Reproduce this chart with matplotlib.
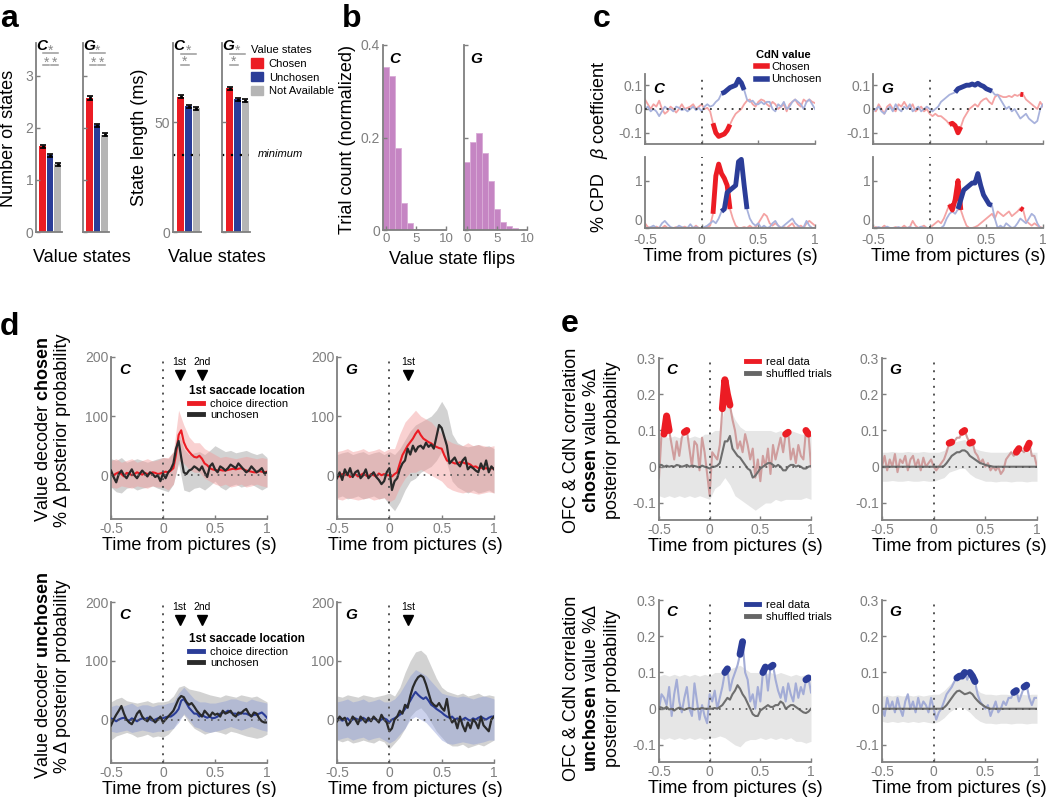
import numpy as np
import matplotlib as mpl
mpl.use('Agg')
import matplotlib.pyplot as plt
from matplotlib.patches import Patch
from matplotlib.lines import Line2D

plt.rcParams['font.family'] = ['Liberation Sans', 'DejaVu Sans']
plt.rcParams['mathtext.fontset'] = 'custom'
plt.rcParams['mathtext.rm'] = 'Liberation Sans'
plt.rcParams['mathtext.it'] = 'Liberation Sans:italic'
plt.rcParams['mathtext.bf'] = 'Liberation Sans:bold'
plt.rcParams['axes.unicode_minus'] = False

# ---------------- panel a ----------------
state_names = ['Chosen', 'Unchosen', 'Not Available']
nstates_C = [1.65, 1.47, 1.30]
nstates_C_err = [0.03, 0.025, 0.025]
nstates_G = [2.57, 2.05, 1.87]
nstates_G_err = [0.04, 0.03, 0.03]
slen_C = [61.5, 57.2, 56.2]
slen_C_err = [0.7, 0.6, 0.6]
slen_G = [65.5, 60.3, 59.8]
slen_G_err = [0.7, 0.6, 0.6]
min_state_len = 35

# ---------------- panel b ----------------
flip_bins = [0, 1, 2, 3, 4, 5, 6, 7, 8, 9]
flips_C = [0.353, 0.333, 0.178, 0.059, 0.016, 0.003, 0.0, 0.0, 0.0, 0.0]
flips_G = [0.148, 0.191, 0.209, 0.167, 0.105, 0.045, 0.018, 0.008, 0.004, 0.001]

# ---------------- time grids ----------------
t = np.linspace(-0.5, 1.0, 61)
t_band = np.linspace(-0.5, 1.0, 31)

# ---------------- panel c ----------------
beta_C_chosen = [0.04, 0.02, 0.0, 0.02, 0.01, 0.035, 0.0, -0.02, -0.01, 0.01,
                 0.0, -0.015, 0.0, 0.02, 0.0, 0.005, 0.01, 0.02, 0.0, 0.01,
                 0.02, 0.0, 0.005, -0.01, -0.06, -0.1, -0.115, -0.11, -0.105, -0.09,
                 -0.065, -0.04, -0.02, -0.01, 0.0, 0.02, 0.035, 0.04, 0.02, 0.01,
                 0.03, 0.04, 0.035, 0.02, 0.01, 0.03, 0.02, 0.0, 0.01, 0.02,
                 -0.01, 0.02, 0.03, 0.04, 0.02, 0.01, 0.04, 0.03, 0.04, 0.03, 0.025]
beta_C_unchosen = [0.0, 0.01, -0.01, 0.0, -0.01, -0.03, -0.01, 0.01, 0.0, 0.0,
                   -0.01, 0.01, 0.005, -0.005, 0.0, -0.01, 0.0, 0.01, -0.005, 0.005,
                   -0.01, 0.01, 0.02, 0.01, 0.015, 0.03, 0.04, 0.065, 0.07, 0.08,
                   0.09, 0.095, 0.1, 0.125, 0.11, 0.08, 0.04, 0.03, 0.035, 0.02,
                   0.02, 0.03, 0.02, 0.03, 0.03, 0.0, -0.01, 0.02, 0.01, 0.03,
                   0.0, 0.01, 0.03, 0.04, 0.03, 0.02, 0.0, 0.03, 0.04, 0.02, 0.0]
beta_G_chosen = [0.0, -0.01, 0.02, 0.0, -0.02, 0.01, 0.02, 0.0, -0.01, 0.02,
                 0.01, 0.03, 0.01, 0.0, 0.02, -0.01, 0.0, 0.01, -0.01, 0.0,
                 -0.02, -0.03, -0.02, -0.03, -0.03, -0.04, -0.05, -0.065, -0.06, -0.07,
                 -0.1, -0.075, -0.04, -0.02, 0.0, 0.01, 0.02, 0.01, 0.03, 0.04,
                 0.045, 0.03, 0.02, 0.05, 0.06, 0.055, 0.05, 0.05, 0.055, 0.05,
                 0.06, 0.055, 0.062, 0.06, 0.04, 0.03, 0.02, 0.01, 0.0, 0.03, 0.01]
beta_G_unchosen = [-0.01, 0.0, 0.01, -0.01, -0.02, 0.0, 0.01, -0.01, 0.02, 0.0,
                   -0.01, 0.01, 0.0, 0.02, -0.01, 0.0, 0.01, -0.01, 0.0, 0.01,
                   0.0, -0.01, 0.0, 0.01, 0.03, 0.04, 0.05, 0.06, 0.065, 0.07,
                   0.085, 0.09, 0.095, 0.1, 0.1, 0.105, 0.1, 0.108, 0.1, 0.095,
                   0.085, 0.08, 0.075, 0.06, 0.06, 0.04, 0.02, 0.0, 0.01, -0.01,
                   0.0, -0.02, -0.04, -0.03, -0.02, -0.04, -0.05, -0.06, -0.05, 0.0, 0.02]
cpd_C_chosen = [0.1, 0.02, 0.0, 0.0, 0.03, 0.0, 0.0, 0.05, 0.0, 0.0,
                0.0, 0.02, 0.0, 0.0, 0.03, 0.0, 0.0, 0.0, 0.05, 0.0,
                0.0, 0.0, 0.02, 0.05, 0.3, 1.1, 1.35, 1.15, 1.05, 0.9,
                0.4, 0.2, 0.05, 0.0, 0.0, 0.02, 0.0, 0.05, 0.0, 0.02,
                0.1, 0.2, 0.3, 0.25, 0.1, 0.05, 0.1, 0.05, 0.0, 0.02,
                0.0, 0.05, 0.1, 0.0, 0.02, 0.05, 0.0, 0.1, 0.15, 0.1, 0.05]
cpd_C_unchosen = [0.0, 0.0, 0.02, 0.05, 0.0, 0.0, 0.1, 0.15, 0.08, 0.02,
                  0.0, 0.0, 0.05, 0.02, 0.0, 0.0, 0.08, 0.0, 0.02, 0.0,
                  0.0, 0.02, 0.05, 0.1, 0.15, 0.1, 0.2, 0.35, 0.4, 0.75,
                  0.8, 0.85, 0.9, 1.4, 1.45, 0.9, 0.4, 0.2, 0.1, 0.05,
                  0.1, 0.0, 0.05, 0.0, 0.02, 0.1, 0.15, 0.05, 0.0, 0.05,
                  0.1, 0.15, 0.2, 0.1, 0.05, 0.0, 0.02, 0.15, 0.05, 0.0, 0.0]
cpd_G_chosen = [0.0, 0.02, 0.0, 0.0, 0.05, 0.0, 0.0, 0.0, 0.02, 0.0,
                0.0, 0.05, 0.0, 0.02, 0.15, 0.05, 0.0, 0.02, 0.05, 0.0,
                0.0, 0.05, 0.1, 0.15, 0.1, 0.2, 0.35, 0.5, 0.38, 0.6,
                1.0, 0.38, 0.2, 0.05, 0.0, 0.0, 0.02, 0.05, 0.1, 0.15,
                0.2, 0.25, 0.3, 0.2, 0.35, 0.3, 0.25, 0.3, 0.35, 0.25,
                0.3, 0.35, 0.42, 0.38, 0.15, 0.1, 0.05, 0.1, 0.05, 0.02, 0.0]
cpd_G_unchosen = [0.0, 0.0, 0.02, 0.0, 0.0, 0.03, 0.0, 0.0, 0.0, 0.02,
                  0.0, 0.0, 0.0, 0.02, 0.0, 0.0, 0.0, 0.03, 0.0, 0.0,
                  0.0, 0.0, 0.0, 0.0, 0.0, 0.05, 0.2, 0.3, 0.35, 0.3,
                  0.4, 0.6, 0.8, 0.85, 0.9, 0.95, 0.95, 1.15, 0.9, 0.7,
                  0.6, 0.5, 0.48, 0.2, 0.0, 0.05, 0.0, 0.1, 0.05, 0.0,
                  0.02, 0.1, 0.2, 0.15, 0.1, 0.2, 0.3, 0.25, 0.1, 0.0, 0.0]
sig_C_chosen = [(0.1, 0.25)]
sig_C_unchosen = [(0.175, 0.375)]
sig_G_chosen = [(0.175, 0.275), (0.8, 0.825)]
sig_G_unchosen = [(0.225, 0.55)]
sig_cpd_C_chosen = [(0.1, 0.25)]
sig_cpd_C_unchosen = [(0.175, 0.4)]
sig_cpd_G_chosen = [(0.175, 0.275), (0.8, 0.825)]
sig_cpd_G_unchosen = [(0.25, 0.55)]

# ---------------- panel d ----------------
dch_C_dir = [2, 0, 3, 5, 2, -2, 4, 3, 0, 2, 5, 3, 1, 4, 2, 3, 5, 4, 2, 3,
             5, 6, 5, 8, 12, 35, 68, 76, 56, 46, 40, 35, 31, 30, 33, 28, 20, 17, 12, 10,
             9, 8, 9, 8, 8, 9, 10, 11, 10, 11, 12, 10, 8, 7, 6, 5, 5, 7, 6, 5, 6]
dch_C_dir_lo = [-20, -22, -18, -20, -22, -18, -20, -22, -18, -20, -20, -25, -15, 25, 20, 10,
                5, 5, -5, -10, -15, -18, -15, -20, -18, -15, -20, -18, -15, -18, -20]
dch_C_dir_hi = [25, 28, 22, 25, 28, 22, 25, 28, 24, 26, 30, 30, 40, 110, 85, 65,
                55, 55, 45, 40, 35, 30, 32, 30, 28, 30, 32, 30, 28, 30, 28]
dch_C_un = [8, -3, -12, 2, 8, 0, -5, 3, 10, 0, -5, 2, 8, 3, -2, 5, 2, -3, 0, -10,
            3, -5, 5, 10, 20, 45, 58, 30, 5, 2, 8, 10, 15, 12, 8, 15, 5, -3, 15, 20,
            10, 5, 15, 12, 8, 12, 18, 15, 12, 20, 15, 10, 5, 8, 15, 10, 5, 8, 12, 3, 5]
dch_C_un_lo = [-20, -28, -30, -22, -20, -25, -22, -20, -18, -22, -25, -28, -15, 20, -25, -28,
               -22, -20, -25, -18, -10, -20, -25, -18, -15, -20, -18, -15, -20, -25, -20]
dch_C_un_hi = [28, 25, 30, 22, 25, 28, 25, 22, 25, 28, 30, 28, 40, 75, 45, 35,
               38, 40, 35, 42, 50, 45, 40, 42, 38, 40, 42, 38, 35, 38, 30]
dch_G_dir = [0, -2, 2, 0, 3, -3, 0, 2, -2, 0, 3, 0, -3, 2, 0, -2, 3, 0, 2, 0,
             0, -2, 2, 5, 20, 34, 42, 50, 56, 62, 70, 76, 68, 62, 59, 56, 54, 50, 48, 46,
             45, 34, 25, 23, 22, 20, 20, 22, 22, 20, 20, 18, 14, 15, 12, 13, 11, 12, 10, 12, 11]
dch_G_dir_lo = [-40, -42, -38, -40, -42, -40, -38, -42, -40, -38, -45, -40, -20, -5, 5, 5,
                10, 5, 0, -5, -10, -20, -25, -28, -30, -28, -30, -32, -30, -28, -30]
dch_G_dir_hi = [40, 42, 45, 40, 42, 45, 40, 42, 45, 40, 45, 45, 70, 90, 100, 110,
                100, 95, 90, 80, 70, 60, 55, 52, 50, 55, 50, 52, 50, 48, 50]
dch_G_un = [-5, 5, -8, 10, 0, 12, -3, 5, 8, -5, 0, 10, -5, 0, 5, -3, -8, -15, -10, 5,
            12, -25, -10, -5, 10, 20, 25, 45, 35, 50, 40, 48, 50, 45, 55, 48, 52, 45, 65, 85,
            80, 65, 50, 20, 25, 30, 20, 15, 25, 30, 10, 15, 12, 8, 5, 20, 10, 25, 5, 15, 10]
dch_G_un_lo = [-38, -35, -40, -38, -35, -40, -38, -35, -40, -38, -50, -60, -45, -25, -10, -5,
               5, 10, 15, 25, 40, 20, -10, -20, -25, -30, -25, -30, -28, -25, -30]
dch_G_un_hi = [35, 38, 40, 35, 38, 40, 35, 38, 40, 35, 40, 35, 45, 60, 75, 85,
               90, 95, 100, 110, 125, 110, 70, 55, 50, 48, 50, 52, 48, 50, 45]

dun_C_dir = [2, 0, -3, 0, 2, 3, 0, -2, 2, 0, -3, 0, 2, 0, 3, 0, -2, 0, 2, 3,
             2, 4, 5, 5, 8, 12, 18, 32, 35, 28, 20, 15, 10, 10, 5, 8, 5, 3, 5, 2,
             3, 5, 10, 12, 12, 15, 12, 10, 10, 8, 12, 10, 10, 8, 6, 8, 8, 10, 12, 8, 3]
dun_C_dir_lo = [-20, -22, -20, -18, -22, -20, -18, -20, -22, -20, -20, -18, -15, -5, 10, 0,
                -12, -15, -20, -22, -20, -18, -15, -12, -15, -18, -15, -12, -15, -18, -20]
dun_C_dir_hi = [22, 25, 22, 25, 28, 22, 25, 25, 22, 25, 25, 28, 30, 45, 55, 45,
                35, 30, 30, 28, 28, 30, 32, 35, 35, 32, 30, 35, 32, 30, 28]
dun_C_un = [-10, 0, 8, 15, 23, 10, 0, -5, -8, 0, 10, 15, 5, 0, -3, 5, 0, -5, 0, 5,
            -5, 0, 5, 10, 15, 25, 35, 40, 38, 30, 25, 28, 22, 15, 10, 5, 15, 10, 5, 12,
            8, 10, 5, 15, 10, 12, 15, 8, 5, 12, 10, 15, 18, 10, 5, 12, 10, 2, -3, -5, -5]
dun_C_un_lo = [-35, -28, -25, -22, -25, -30, -28, -25, -30, -28, -30, -25, -15, 0, 8, -5,
               -15, -20, -25, -22, -20, -22, -25, -20, -22, -25, -28, -30, -32, -30, -25]
dun_C_un_hi = [30, 35, 38, 32, 30, 28, 30, 32, 28, 30, 30, 32, 40, 55, 58, 52,
               50, 48, 45, 42, 40, 38, 42, 40, 38, 42, 40, 38, 40, 35, 30]
dun_G_dir = [0, 3, -2, 0, 2, -3, 0, 2, 0, -2, 3, 0, -2, 0, 2, 0, -3, 0, 2, 0,
             -5, 0, 2, 5, 8, 12, 18, 25, 32, 40, 47, 42, 38, 35, 38, 32, 25, 22, 18, 15,
             12, 8, 5, 3, 5, 0, 2, -2, 0, 3, 0, -2, 2, 0, 3, 5, 2, 0, 3, 5, 5]
dun_G_dir_lo = [-35, -32, -30, -35, -32, -30, -35, -32, -30, -35, -40, -35, -25, -15, 0, 5,
                0, -5, -15, -25, -35, -40, -42, -40, -38, -40, -42, -40, -38, -35, -35]
dun_G_dir_hi = [30, 32, 35, 30, 32, 35, 30, 32, 35, 30, 30, 35, 45, 60, 75, 85,
                80, 75, 65, 55, 45, 42, 40, 38, 40, 38, 35, 38, 40, 38, 35]
dun_G_un = [-3, 5, 0, 3, -10, -5, 5, 0, -8, 5, 0, -5, 3, -3, 5, 0, -5, 8, 0, -5,
            -20, -15, 0, 5, 15, 10, 25, 20, 40, 55, 65, 72, 75, 72, 60, 45, 30, 25, 22, 28,
            20, 15, 35, 5, -5, 0, -15, 5, -10, -20, -5, -15, 0, -5, -15, 5, -10, -15, -20, 0, 5]
dun_G_un_lo = [-35, -38, -35, -40, -38, -35, -38, -40, -35, -38, -50, -40, -30, -15, 5, 15,
               20, 10, -5, -20, -30, -40, -45, -45, -42, -48, -45, -42, -45, -40, -35]
dun_G_un_hi = [40, 38, 42, 40, 38, 42, 40, 38, 40, 42, 45, 40, 55, 80, 100, 115,
               118, 110, 90, 70, 55, 48, 45, 42, 45, 40, 42, 45, 40, 42, 40]
saccade_C = [0.16, 0.375]
saccade_C_labels = ['1st', '2nd']
saccade_G = [0.18]
saccade_G_labels = ['1st']

# ---------------- panel e ----------------
ech_C_real = [-0.03, 0.09, 0.09, 0.14, 0.1, 0.06, 0.02, 0.07, 0.03, 0.08,
              0.095, 0.1, 0.05, 0.0, 0.07, 0.06, -0.01, 0.08, 0.04, -0.02,
              -0.08, 0.04, 0.03, 0.02, 0.06, 0.16, 0.24, 0.2, 0.17, 0.13,
              0.1, 0.05, 0.07, 0.04, 0.09, 0.06, 0.02, 0.05, -0.03, 0.02,
              -0.04, 0.03, 0.0, 0.05, -0.02, 0.06, 0.02, 0.05, 0.08, 0.04,
              0.09, 0.095, 0.02, 0.05, 0.01, 0.06, 0.03, 0.02, 0.1, 0.09, 0.0]
ech_C_shuf = [0.005, 0.005, 0.0, 0.003, 0.0, 0.002, 0.0, 0.005, 0.003, 0.0,
              0.002, 0.005, 0.0, 0.003, 0.002, 0.0, -0.002, 0.003, 0.0, -0.002,
              -0.005, 0.0, 0.0, 0.003, 0.01, 0.04, 0.07, 0.07, 0.085, 0.05,
              0.04, 0.03, 0.025, 0.015, 0.005, -0.005, -0.01, -0.03, -0.025, -0.015,
              -0.005, 0.0, 0.005, 0.01, 0.01, 0.005, 0.0, 0.005, 0.0, -0.01,
              -0.01, 0.0, 0.005, 0.005, 0.0, 0.003, 0.0, -0.005, -0.005, 0.0, 0.002]
ech_C_lo = [-0.08, -0.085, -0.08, -0.085, -0.08, -0.085, -0.08, -0.085, -0.08, -0.085, -0.09,
            -0.06, -0.05, -0.03, -0.05, -0.08, -0.09, -0.1, -0.11, -0.12, -0.11,
            -0.1, -0.1, -0.09, -0.095, -0.09, -0.09, -0.09, -0.09, -0.085, -0.09]
ech_C_hi = [0.08, 0.085, 0.08, 0.085, 0.08, 0.085, 0.08, 0.085, 0.08, 0.09, 0.09,
            0.1, 0.1, 0.17, 0.16, 0.13, 0.11, 0.1, 0.1, 0.1, 0.1,
            0.1, 0.1, 0.095, 0.1, 0.09, 0.1, 0.095, 0.09, 0.09, 0.09]
ech_C_sig = [(-0.45, -0.4), (-0.25, -0.225), (0.125, 0.2), (0.75, 0.775), (0.95, 0.975)]
ech_G_real = [0.0, 0.03, -0.01, 0.02, 0.0, 0.035, -0.015, 0.02, 0.01, 0.03,
              -0.01, 0.02, 0.03, 0.0, 0.02, -0.01, 0.025, 0.0, 0.01, 0.02,
              0.0, -0.01, 0.0, 0.01, 0.02, 0.04, 0.065, 0.068, 0.07, 0.08,
              0.08, 0.095, 0.1, 0.08, 0.065, 0.068, 0.04, 0.03, 0.01, 0.02,
              0.0, 0.01, -0.01, 0.0, -0.01, 0.0, -0.02, -0.01, 0.02, 0.03,
              0.04, 0.03, 0.04, 0.05, 0.045, 0.04, 0.05, 0.065, 0.03, 0.03, 0.0]
ech_G_shuf = [0.0, 0.0, 0.0, 0.0, 0.0, 0.0, 0.0, 0.0, 0.0, 0.0,
              0.0, 0.0, 0.0, 0.0, 0.0, 0.0, 0.0, 0.0, 0.0, 0.0,
              0.0, 0.0, 0.0, 0.0, 0.002, 0.01, 0.02, 0.03, 0.035, 0.04,
              0.04, 0.045, 0.045, 0.04, 0.03, 0.025, 0.02, 0.015, 0.01, 0.008,
              0.005, 0.003, 0.002, 0.0, 0.0, 0.0, 0.0, 0.0, 0.0, 0.0,
              0.0, 0.0, 0.0, 0.0, 0.0, 0.0, 0.0, 0.0, 0.0, 0.0, 0.0]
ech_G_lo = [-0.04, -0.04, -0.038, -0.04, -0.04, -0.038, -0.04, -0.04, -0.038, -0.04, -0.04,
            -0.035, -0.03, -0.015, -0.01, -0.005, -0.005, -0.02, -0.03, -0.035, -0.04,
            -0.04, -0.042, -0.04, -0.04, -0.042, -0.04, -0.04, -0.042, -0.04, -0.04]
ech_G_hi = [0.04, 0.04, 0.042, 0.04, 0.04, 0.042, 0.04, 0.04, 0.042, 0.04, 0.04,
            0.04, 0.045, 0.06, 0.068, 0.072, 0.075, 0.065, 0.05, 0.045, 0.042,
            0.04, 0.04, 0.04, 0.04, 0.042, 0.04, 0.04, 0.042, 0.04, 0.04]
ech_G_sig = [(0.15, 0.175), (0.275, 0.3), (0.35, 0.375), (0.8, 0.825), (0.9, 0.925)]

eun_C_real = [0.0, 0.04, 0.03, 0.01, 0.06, -0.02, 0.04, 0.08, 0.02, -0.01,
              0.03, 0.06, 0.0, -0.02, 0.07, 0.02, -0.03, 0.01, -0.02, -0.04,
              0.04, 0.02, 0.05, 0.0, 0.03, 0.06, 0.1, 0.11, 0.05, 0.08,
              0.1, 0.12, 0.15, 0.185, 0.1, 0.08, 0.02, 0.04, 0.0, 0.06,
              0.02, 0.1, 0.115, 0.05, 0.115, 0.12, 0.08, 0.05, 0.03, 0.06,
              0.02, 0.07, 0.04, 0.02, 0.07, 0.03, 0.06, 0.04, 0.08, 0.085, 0.045]
eun_C_shuf = [0.005, 0.003, 0.0, 0.005, -0.002, 0.0, -0.005, 0.0, 0.003, 0.0,
              -0.003, 0.0, 0.002, 0.0, -0.002, 0.0, 0.0, 0.002, 0.0, 0.0,
              0.0, 0.0, 0.002, 0.0, 0.005, 0.01, 0.02, 0.03, 0.025, 0.04,
              0.05, 0.065, 0.055, 0.04, 0.03, 0.015, 0.0, -0.015, -0.02, -0.02,
              -0.005, 0.0, 0.005, 0.01, 0.005, 0.005, 0.01, 0.01, 0.02, 0.015,
              0.0, 0.005, 0.01, 0.01, 0.005, 0.0, -0.005, -0.01, -0.012, -0.008, 0.0]
eun_C_lo = [-0.08, -0.085, -0.08, -0.085, -0.08, -0.085, -0.08, -0.085, -0.08, -0.085, -0.08,
            -0.08, -0.075, -0.08, -0.09, -0.1, -0.105, -0.09, -0.085, -0.085, -0.08,
            -0.085, -0.08, -0.085, -0.08, -0.085, -0.08, -0.09, -0.09, -0.095, -0.09]
eun_C_hi = [0.09, 0.095, 0.09, 0.095, 0.09, 0.095, 0.09, 0.095, 0.09, 0.095, 0.09,
            0.1, 0.1, 0.105, 0.11, 0.115, 0.12, 0.11, 0.1, 0.1, 0.1,
            0.095, 0.1, 0.095, 0.1, 0.095, 0.09, 0.095, 0.09, 0.095, 0.09]
eun_C_sig = [(0.15, 0.175), (0.3, 0.325), (0.525, 0.55), (0.6, 0.625), (0.95, 0.975)]
eun_G_real = [0.0, -0.02, 0.03, 0.0, 0.02, -0.01, 0.03, 0.0, -0.02, 0.02,
              0.04, 0.0, 0.02, -0.01, 0.03, 0.0, 0.02, 0.01, -0.01, 0.03,
              0.0, -0.03, -0.01, 0.0, 0.02, 0.04, 0.05, 0.06, 0.075, 0.085,
              0.09, 0.09, 0.1, 0.08, 0.1, 0.09, 0.075, 0.04, 0.02, 0.01,
              0.0, 0.01, -0.02, 0.0, 0.02, -0.01, 0.0, 0.02, 0.01, 0.03,
              0.03, 0.045, 0.05, 0.02, 0.04, 0.06, 0.065, 0.03, 0.01, 0.03, 0.03]
eun_G_shuf = [0.0, 0.0, 0.0, 0.0, 0.0, 0.0, 0.0, 0.0, 0.0, 0.0,
              0.0, 0.0, 0.0, 0.0, 0.0, 0.0, 0.0, 0.0, 0.0, 0.0,
              0.0, 0.0, 0.0, 0.0, 0.003, 0.01, 0.02, 0.03, 0.04, 0.048,
              0.05, 0.045, 0.04, 0.042, 0.045, 0.04, 0.03, 0.022, 0.015, 0.01,
              0.005, 0.002, 0.0, 0.0, 0.0, 0.0, 0.0, 0.0, 0.0, 0.0,
              0.0, 0.0, 0.0, 0.0, 0.0, 0.0, 0.0, 0.0, 0.0, 0.0, 0.0]
eun_G_lo = [-0.035, -0.038, -0.035, -0.038, -0.035, -0.038, -0.035, -0.038, -0.035, -0.038, -0.04,
            -0.035, -0.025, -0.01, 0.0, 0.005, 0.0, -0.01, -0.025, -0.035, -0.04,
            -0.04, -0.042, -0.04, -0.04, -0.042, -0.04, -0.04, -0.042, -0.04, -0.04]
eun_G_hi = [0.035, 0.038, 0.035, 0.038, 0.035, 0.038, 0.035, 0.038, 0.035, 0.038, 0.04,
            0.04, 0.05, 0.065, 0.08, 0.085, 0.085, 0.08, 0.06, 0.045, 0.04,
            0.04, 0.038, 0.04, 0.04, 0.038, 0.04, 0.04, 0.038, 0.04, 0.04]
eun_G_sig = [(0.225, 0.25), (0.275, 0.3), (0.35, 0.4), (0.775, 0.8), (0.875, 0.9)]

# ---------------- style ----------------
W, H = 1050, 797
RED = '#ec1c24'
BLUE = '#2b3d98'
BARGRAY = '#b5b5b5'
AXGRAY = '#7f7f7f'
PURPLE = '#c585c3'
FAINT_RED = '#f4a3a3'
FAINT_BLUE = '#a8b2dc'
DARK = '#2a2a2a'

fig = plt.figure(figsize=(W / 100, H / 100), dpi=100)


def fx(x):
  return x / W


def fy(y):
  return 1 - y / H


def add_ax(x0, y0, x1, y1):
  ax = fig.add_axes([fx(x0), fy(y1), (x1 - x0) / W, (y1 - y0) / H])
  for s in ['top', 'right']:
    ax.spines[s].set_visible(False)
  for s in ['left', 'bottom']:
    ax.spines[s].set_color(AXGRAY)
    ax.spines[s].set_linewidth(1.3)
  ax.tick_params(direction='in', length=3, width=1, colors=AXGRAY, labelsize=10, pad=2)
  return ax


def ftext(x, y, s, **kw):
  fig.text(fx(x), fy(y), s, **kw)


def monkey(ax, name, x=0.04, y=0.99):
  ax.text(x, y, name, transform=ax.transAxes, ha='left', va='top',
          fontsize=11, fontweight='bold', fontstyle='italic', color='k')


def time_axis(ax, labels=True, xlabel=True):
  ax.set_xlim(-0.5, 1.0)
  ax.set_xticks([-0.5, 0, 0.5, 1])
  if labels:
    ax.set_xticklabels(['-0.5', '0', '0.5', '1'])
  else:
    ax.set_xticklabels([])
  if xlabel:
    ax.set_xlabel('Time from pictures (s)', fontsize=13, labelpad=1)
  ax.axvline(0, color='#555555', ls=(0, (1, 3)), lw=1.4, zorder=5)


def draw_sig(ax, y, windows, color, lw, cap):
  y = np.asarray(y)
  for a, b in windows:
    m = (t >= a - 1e-6) & (t <= b + 1e-6)
    ax.plot(t[m], y[m], color=color, lw=lw, solid_capstyle=cap, zorder=4)


# ---------------- panel a ----------------
def bars(ax, vals, errs, ylim, yticks, show_labels):
  xs = [1, 2, 3]
  ax.bar(xs, vals, width=0.88, color=[RED, BLUE, BARGRAY])
  ax.errorbar(xs, vals, yerr=errs, fmt='none', ecolor='k', elinewidth=2,
              capsize=2.5, capthick=1.2)
  ax.set_xlim(0.1, 3.6)
  ax.set_ylim(*ylim)
  ax.set_xticks([])
  ax.set_yticks(yticks)
  if not show_labels:
    ax.set_yticklabels([])


def sig_bracket(ax, x0, x1, y, star_y):
  ax.plot([x0, x1], [y, y], color='#9a9a9a', lw=1.1, clip_on=False)
  ax.text((x0 + x1) / 2, star_y, '*', ha='center', va='center', color='#8a8a8a',
          fontsize=10, clip_on=False)


a1 = add_ax(36, 43, 62, 232)
bars(a1, nstates_C, nstates_C_err, (0, 3.63), [0, 1, 2, 3], True)
a2 = add_ax(83, 43, 109, 232)
bars(a2, nstates_G, nstates_G_err, (0, 3.63), [0, 1, 2, 3], False)
for ax in [a1, a2]:
  sig_bracket(ax, 1, 3, 3.44, 3.48)
  sig_bracket(ax, 1, 1.9, 3.2, 3.25)
  sig_bracket(ax, 2.1, 3, 3.2, 3.25)
monkey(a1, 'C', 0.02, 1.02)
monkey(a2, 'G', 0.02, 1.02)

a3 = add_ax(173, 43, 201, 232)
bars(a3, slen_C, slen_C_err, (0, 86), [0, 50], True)
a4 = add_ax(222, 43, 250, 232)
bars(a4, slen_G, slen_G_err, (0, 86), [0, 50], False)
for ax in [a3, a4]:
  ax.set_xlim(0.0, 3.6)
  sig_bracket(ax, 1, 3, 81, 82.5)
  sig_bracket(ax, 1, 2, 76, 77.5)
  ax.plot([0.0, 3.5], [min_state_len, min_state_len], color='k', ls=(0, (1, 3)), lw=1.6)
monkey(a3, 'C', 0.02, 1.02)
monkey(a4, 'G', 0.02, 1.02)
ftext(258, 154, 'minimum', fontsize=8, fontstyle='italic', va='center')

ftext(9, 138, 'Number of states', rotation=90, fontsize=13, ha='center', va='center')
ftext(140, 137, 'State length (ms)', rotation=90, fontsize=13, ha='center', va='center')
ftext(82, 257, 'Value states', fontsize=13, ha='center', va='center')
ftext(217, 257, 'Value states', fontsize=13, ha='center', va='center')
fig.legend([Patch(color=c) for c in [RED, BLUE, BARGRAY]], state_names,
           title='Value states', loc='upper left', bbox_to_anchor=(fx(251), fy(45)),
           frameon=False, fontsize=8, title_fontsize=8, handlelength=1.1,
           handleheight=0.9, handletextpad=0.5, labelspacing=0.3, borderpad=0,
           borderaxespad=0, alignment='left')

# ---------------- panel b ----------------
b1 = add_ax(383, 45, 446, 230)
b2 = add_ax(464, 45, 527, 230)
for ax, vals, name in [(b1, flips_C, 'C'), (b2, flips_G, 'G')]:
  ax.bar(flip_bins, vals, width=1.0, color=PURPLE, edgecolor='#d9acd7', lw=0.6)
  ax.set_xlim(-0.5, 10)
  ax.set_ylim(0, 0.4)
  ax.set_xticks([0, 5, 10])
  ax.set_yticks([0, 0.2, 0.4])
  ax.tick_params(axis='x', labelsize=9.5)
  monkey(ax, name, 0.1, 0.96)
b1.set_yticklabels(['0', '0.2', '0.4'])
b2.set_yticklabels([])
ftext(348, 140, 'Trial count (normalized)', rotation=90, fontsize=13, ha='center', va='center')
ftext(452, 259, 'Value state flips', fontsize=13, ha='center', va='center')

# ---------------- panel c ----------------
c_axes = [(645, 74, 815, 144, 645, 157, 815, 228, 'C',
           beta_C_chosen, beta_C_unchosen, sig_C_chosen, sig_C_unchosen,
           cpd_C_chosen, cpd_C_unchosen, sig_cpd_C_chosen, sig_cpd_C_unchosen),
          (873, 74, 1043, 144, 873, 157, 1043, 228, 'G',
           beta_G_chosen, beta_G_unchosen, sig_G_chosen, sig_G_unchosen,
           cpd_G_chosen, cpd_G_unchosen, sig_cpd_G_chosen, sig_cpd_G_unchosen)]
for (x0, y0, x1, y1, bx0, by0, bx1, by1, name, bc, bu, sbc, sbu, pc, pu, spc, spu) in c_axes:
  top = add_ax(x0, y0, x1, y1)
  top.plot(t, bc, color=FAINT_RED, lw=1.3, zorder=2)
  top.plot(t, bu, color=FAINT_BLUE, lw=1.3, zorder=2)
  draw_sig(top, bc, sbc, RED, 3.5, 'butt')
  draw_sig(top, bu, sbu, BLUE, 3.5, 'butt')
  top.axhline(0, color='#333333', ls=(0, (1, 3)), lw=1.3, zorder=5)
  top.set_ylim(-0.147, 0.147)
  top.set_yticks([-0.1, 0, 0.1])
  top.set_yticklabels(['-0.1', '0', '0.1'])
  time_axis(top, labels=False, xlabel=False)
  monkey(top, name, 0.05, 0.88)
  bot = add_ax(bx0, by0, bx1, by1)
  bot.plot(t, pc, color=FAINT_RED, lw=1.3, zorder=2)
  bot.plot(t, pu, color=FAINT_BLUE, lw=1.3, zorder=2)
  draw_sig(bot, pc, spc, RED, 3.5, 'butt')
  draw_sig(bot, pu, spu, BLUE, 3.5, 'butt')
  bot.set_ylim(0, 1.5)
  bot.set_yticks([0, 1])
  bot.set_yticklabels(['0', '1'])
  bot.get_yticklabels()[0].set_verticalalignment('bottom')
  time_axis(bot)
  bot.tick_params(axis='x', pad=3.5)
ftext(599, 110, r'$\beta$ coefficient', rotation=90, fontsize=13, ha='center', va='center')
ftext(599, 203, '% CPD', rotation=90, fontsize=13, ha='center', va='center')
fig.legend([Line2D([], [], color=RED, lw=4), Line2D([], [], color=BLUE, lw=4)],
           ['Chosen', 'Unchosen'], title='CdN value', loc='upper left',
           bbox_to_anchor=(fx(756), fy(50)), frameon=False, fontsize=8,
           title_fontproperties={'weight': 'bold', 'size': 8}, handlelength=1.0,
           handletextpad=0.4, labelspacing=0.2, borderpad=0, borderaxespad=0,
           alignment='left')

# ---------------- panel d ----------------
def decoder_panel(ax, m1, lo1, hi1, m2, lo2, hi2, col, band_col, name, sacc, sacc_labels):
  ax.fill_between(t_band, lo2, hi2, color='#9c9c9c', alpha=0.45, lw=0)
  ax.fill_between(t_band, lo1, hi1, color=band_col, alpha=0.45, lw=0)
  ax.plot(t, m1, color=col, lw=1.5, zorder=3)
  ax.plot(t, m2, color=DARK, lw=1.6, zorder=3)
  ax.axhline(0, color='#555555', ls=(0, (1, 3)), lw=1.2, zorder=5)
  ax.set_ylim(-74, 200)
  ax.set_yticks([0, 100, 200])
  time_axis(ax)
  monkey(ax, name, 0.05, 0.96)
  for s, lab in zip(sacc, sacc_labels):
    ax.plot(s, 169, marker='v', color='k', ms=6.5, ls='none')
    ax.text(s, 191, lab, ha='center', va='center', fontsize=7.5)


d1 = add_ax(111, 357, 267, 519)
decoder_panel(d1, dch_C_dir, dch_C_dir_lo, dch_C_dir_hi, dch_C_un, dch_C_un_lo, dch_C_un_hi,
              RED, '#f39a9a', 'C', saccade_C, saccade_C_labels)
d2 = add_ax(337, 357, 494, 519)
decoder_panel(d2, dch_G_dir, dch_G_dir_lo, dch_G_dir_hi, dch_G_un, dch_G_un_lo, dch_G_un_hi,
              RED, '#f39a9a', 'G', saccade_G, saccade_G_labels)
d3 = add_ax(111, 602, 267, 763)
decoder_panel(d3, dun_C_dir, dun_C_dir_lo, dun_C_dir_hi, dun_C_un, dun_C_un_lo, dun_C_un_hi,
              BLUE, '#8f9dd6', 'C', saccade_C, saccade_C_labels)
d4 = add_ax(337, 602, 494, 763)
decoder_panel(d4, dun_G_dir, dun_G_dir_lo, dun_G_dir_hi, dun_G_un, dun_G_un_lo, dun_G_un_hi,
              BLUE, '#8f9dd6', 'G', saccade_G, saccade_G_labels)
for y, col in [(385, RED), (633, BLUE)]:
  fig.legend([Line2D([], [], color=col, lw=3.5), Line2D([], [], color=DARK, lw=3.5)],
             ['choice direction', 'unchosen'], title='1st saccade location',
             loc='upper left', bbox_to_anchor=(fx(189), fy(y)), frameon=False,
             fontsize=8, title_fontproperties={'weight': 'bold', 'size': 8.5},
             handlelength=1.3, handletextpad=0.6, labelspacing=0.15, borderpad=0,
             borderaxespad=0, alignment='left')
ftext(53, 430, 'Value decoder $\\mathbf{chosen}$\n% Δ posterior probability', rotation=90,
      fontsize=13, ha='center', va='center', linespacing=1.2)
ftext(53, 676, 'Value decoder $\\mathbf{unchosen}$\n% Δ posterior probability', rotation=90,
      fontsize=13, ha='center', va='center', linespacing=1.2)

# ---------------- panel e ----------------
def corr_panel(ax, real, shuf, lo, hi, sig, col, faint, name):
  ax.fill_between(t_band, lo, hi, color='#e6e6e6', lw=0, zorder=1)
  ax.plot(t, real, color=faint, lw=1.5, zorder=2)
  ax.plot(t, shuf, color='#6e6e6e', lw=1.5, zorder=3)
  draw_sig(ax, real, sig, col, 5, 'round')
  ax.axhline(0, color='#555555', ls=(0, (1, 3)), lw=1.2, zorder=5)
  ax.set_ylim(-0.147, 0.3)
  ax.set_yticks([-0.1, 0, 0.1, 0.2, 0.3])
  ax.set_yticklabels(['-0.1', '0', '0.1', '0.2', '0.3'])
  time_axis(ax)
  monkey(ax, name, 0.05, 0.97)


e1 = add_ax(659, 358, 811, 520)
corr_panel(e1, ech_C_real, ech_C_shuf, ech_C_lo, ech_C_hi, ech_C_sig, RED, '#cf9d9d', 'C')
e2 = add_ax(882, 358, 1037, 520)
corr_panel(e2, ech_G_real, ech_G_shuf, ech_G_lo, ech_G_hi, ech_G_sig, RED, '#cf9d9d', 'G')
e3 = add_ax(659, 600, 811, 762)
corr_panel(e3, eun_C_real, eun_C_shuf, eun_C_lo, eun_C_hi, eun_C_sig, BLUE, '#a3acd6', 'C')
e4 = add_ax(882, 600, 1037, 762)
corr_panel(e4, eun_G_real, eun_G_shuf, eun_G_lo, eun_G_hi, eun_G_sig, BLUE, '#a3acd6', 'G')
for y, col in [(357, RED), (600, BLUE)]:
  fig.legend([Line2D([], [], color=col, lw=3.5), Line2D([], [], color='#666666', lw=3.5)],
             ['real data', 'shuffled trials'], loc='upper left',
             bbox_to_anchor=(fx(746), fy(y)), frameon=False, fontsize=8,
             handlelength=1.2, handletextpad=0.6, labelspacing=0.15, borderpad=0,
             borderaxespad=0)
ftext(592, 440, 'OFC & CdN correlation\n$\\mathbf{chosen}$ value %Δ\nposterior probability',
      rotation=90, fontsize=13, ha='center', va='center', linespacing=1.25)
ftext(592, 688, 'OFC & CdN correlation\n$\\mathbf{unchosen}$ value %Δ\nposterior probability',
      rotation=90, fontsize=13, ha='center', va='center', linespacing=1.25)

# ---------------- panel letters ----------------
for x, y, s in [(0, 27, 'a'), (342, 27, 'b'), (593, 27, 'c'), (0, 335, 'd'), (561, 332, 'e')]:
  ftext(x, y, s, fontsize=23, fontweight='bold', va='baseline', ha='left')

fig.savefig('out.png', dpi=100)
